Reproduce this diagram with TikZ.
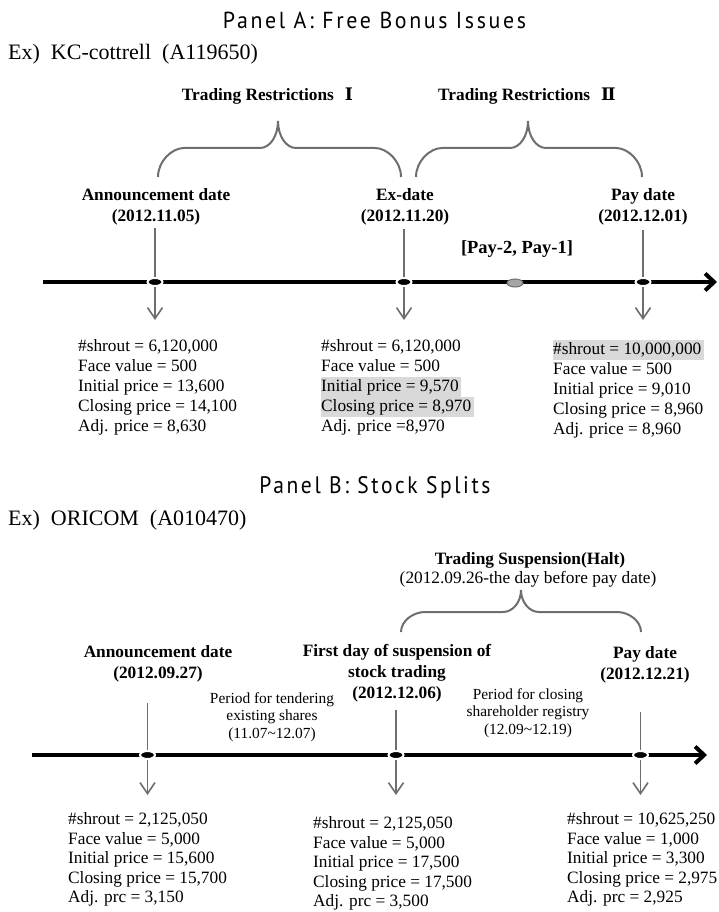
\documentclass[tikz,border=0pt]{standalone}
\usepackage{fontspec}
\usepackage{graphicx}
\setmainfont{Liberation Serif}
\newfontfamily\titlefont[LetterSpace=12]{PT Sans}
\newfontfamily\romfont{DejaVu Serif}
\usetikzlibrary{arrows.meta,shapes.geometric}
\definecolor{lg}{HTML}{6E6E6E}
\definecolor{hlgray}{HTML}{D9D9D9}
\definecolor{dotgray}{HTML}{A5A5A5}
\newcommand{\hlt}[1]{{\setlength{\fboxsep}{0pt}\colorbox{hlgray}{\strut#1\hspace{2.5pt}}}}
\newcommand{\ttlbox}[3]{\resizebox{#1}{#2}{\titlefont #3}}
\tikzset{
 lbl/.style={font=\bfseries\fontsize{17.3}{21}\selectfont, align=center, inner sep=0pt},
 blkA/.style={font=\fontsize{17.3}{20}\selectfont, align=left, anchor=north west, inner sep=0pt},
 blkB/.style={font=\fontsize{17.3}{19.5}\selectfont, align=left, anchor=north west, inner sep=0pt},
 per/.style={font=\fontsize{15.4}{17.5}\selectfont, align=center, inner sep=0pt},
 tline/.style={line width=4pt, -{Straight Barb[length=9pt,width=17pt]}},
 vl/.style={draw=lg, line width=1.6pt},
 va/.style={draw=lg, line width=1.6pt, -{Straight Barb[length=11pt,width=15pt]}},
 brc/.style={draw=lg, line width=2pt},
 dotb/.style={ellipse, minimum width=15pt, minimum height=8pt, inner sep=0pt, fill=black, draw=white, line width=2pt},
 dotg/.style={ellipse, minimum width=16pt, minimum height=8pt, inner sep=0pt, fill=dotgray, draw=lg, line width=1pt},
}
\begin{document}
\begin{tikzpicture}[x=1pt,y=-1pt]
\useasboundingbox[fill=white] (0,0) rectangle (719,912);

% ---------------- Panel A ----------------
\node[anchor=base, inner sep=0pt] (titleA) at (374.5,28.3) {\ttlbox{303pt}{16.5pt}{Panel A: Free Bonus Issues}};
\node[anchor=base west, inner sep=0pt, font=\fontsize{22}{26}\selectfont] (exA) at (8,60) {Ex)\ \ KC-cottrell\ \ (A119650)};

\node[anchor=base, inner sep=0pt, font=\bfseries\fontsize{17.3}{21}\selectfont] (tr1) at (267.5,101) {Trading Restrictions\hspace{11pt}{\romfont\bfseries Ⅰ}};
\node[anchor=base, inner sep=0pt, font=\bfseries\fontsize{17.3}{21}\selectfont] (tr2) at (527,101) {Trading Restrictions\hspace{11pt}{\romfont\bfseries Ⅱ}};

% braces
\draw[brc] (158,177) .. controls (158,161) and (172,148) .. (184,148) -- (260,148)
  .. controls (270,148) and (278,136) .. (278,121)
  .. controls (278,136) and (286,148) .. (296,148) -- (375,148)
  .. controls (387,148) and (401,161) .. (401,177);
\draw[brc] (416,177) .. controls (416,161) and (430,148) .. (442,148) -- (510,148)
  .. controls (520,148) and (528,136) .. (528,121)
  .. controls (528,136) and (536,148) .. (546,148) -- (616,148)
  .. controls (628,148) and (642,161) .. (642,177);

\node[lbl] (annA) at (156,207) {\strut Announcement date\\\strut (2012.11.05)};
\node[lbl] (exdA) at (405,207) {\strut Ex-date\\\strut (2012.11.20)};
\node[lbl] (payA) at (643,207) {\strut Pay date\\\strut (2012.12.01)};
\node[anchor=base, inner sep=0pt, font=\bfseries\fontsize{18.5}{22}\selectfont] (payw) at (517,253) {[Pay-2, Pay-1]};

\coordinate (sA) at (43,282);
\coordinate (eA) at (717,282);
\draw[tline] (sA) -- (eA);

\node[dotb] (dA1) at (155,282) {};
\node[dotb] (dA2) at (404,282) {};
\node[dotb] (dA3) at (643,282) {};
\node[dotg] (gA) at (515,283) {};

\coordinate (tA1) at (155,228);
\coordinate (tA2) at (404,229);
\coordinate (tA3) at (643,230);
\coordinate (aA1) at (155,320);
\coordinate (aA2) at (404,320);
\coordinate (aA3) at (643,320);
\draw[vl] (tA1) -- (dA1);
\draw[vl] (tA2) -- (dA2);
\draw[vl] (tA3) -- (dA3);
\draw[va] (dA1) -- (aA1);
\draw[va] (dA2) -- (aA2);
\draw[va] (dA3) -- (aA3);

\node[blkA] (bA1) at (78,337) {\strut\#shrout = 6,120,000\\\strut Face value = 500\\\strut Initial price = 13,600\\\strut Closing price = 14,100\\\strut Adj. price = 8,630};
\node[blkA] (bA2) at (321,337) {\strut\#shrout = 6,120,000\\\strut Face value = 500\\\hlt{Initial price = 9,570}\\\hlt{Closing price = 8,970}\\\strut Adj. price =8,970};
\node[blkA] (bA3) at (553,340) {\hlt{\#shrout = 10,000,000}\\\strut Face value = 500\\\strut Initial price = 9,010\\\strut Closing price = 8,960\\\strut Adj. price = 8,960};

% ---------------- Panel B ----------------
\node[anchor=base, inner sep=0pt] (titleB) at (375,493.3) {\ttlbox{231pt}{17pt}{Panel B: Stock Splits}};
\node[anchor=base west, inner sep=0pt, font=\fontsize{22}{26}\selectfont] (exB) at (8,525) {Ex)\ \ ORICOM\ \ (A010470)};

\node[anchor=base, inner sep=0pt, font=\bfseries\fontsize{17.3}{21}\selectfont] (ts) at (530,564) {Trading Suspension(Halt)};
\node[anchor=base, inner sep=0pt, font=\fontsize{17.3}{21}\selectfont] (tsd) at (528,583) {(2012.09.26-the day before pay date)};

\draw[brc] (401,632) .. controls (401,621) and (413,612) .. (425,612) -- (503,612)
  .. controls (513,612) and (521,602) .. (521,590)
  .. controls (521,602) and (529,612) .. (539,612) -- (617,612)
  .. controls (629,612) and (641,621) .. (641,632);

\node[lbl] (annB) at (158,664) {\strut Announcement date\\\strut (2012.09.27)};
\node[lbl] (fdB) at (397,673) {\strut First day of suspension of\\\strut stock trading\\\strut (2012.12.06)};
\node[lbl] (payB) at (645,665) {\strut Pay date\\\strut (2012.12.21)};

\node[per] (perB1) at (272,717) {\strut Period for tendering\\\strut existing shares\\\strut (11.07\textasciitilde 12.07)};
\node[per] (perB2) at (528,713) {\strut Period for closing\\\strut shareholder registry\\\strut (12.09\textasciitilde 12.19)};

\coordinate (sB) at (32,755);
\coordinate (eB) at (707,755);
\draw[tline] (sB) -- (eB);

\node[dotb] (dB1) at (147.5,755) {};
\node[dotb] (dB2) at (396,755) {};
\node[dotb] (dB3) at (640.5,755) {};

\coordinate (tB1) at (147.5,703);
\coordinate (tB2) at (396,710);
\coordinate (tB3) at (640.5,712);
\coordinate (aB1) at (147.5,795);
\coordinate (aB2) at (396,795);
\coordinate (aB3) at (640.5,795);
\draw[vl] (tB1) -- (dB1);
\draw[vl] (tB2) -- (dB2);
\draw[vl] (tB3) -- (dB3);
\draw[va] (dB1) -- (aB1);
\draw[va] (dB2) -- (aB2);
\draw[va] (dB3) -- (aB3);

\node[blkB] (bB1) at (68,811) {\strut\#shrout = 2,125,050\\\strut Face value = 5,000\\\strut Initial price = 15,600\\\strut Closing price = 15,700\\\strut Adj. prc = 3,150};
\node[blkB] (bB2) at (313,815) {\strut\#shrout = 2,125,050\\\strut Face value = 5,000\\\strut Initial price = 17,500\\\strut Closing price = 17,500\\\strut Adj. prc = 3,500};
\node[blkB] (bB3) at (567,811) {\strut\#shrout = 10,625,250\\\strut Face value = 1,000\\\strut Initial price = 3,300\\\strut Closing price = 2,975\\\strut Adj. prc = 2,925};
\end{tikzpicture}
\end{document}
